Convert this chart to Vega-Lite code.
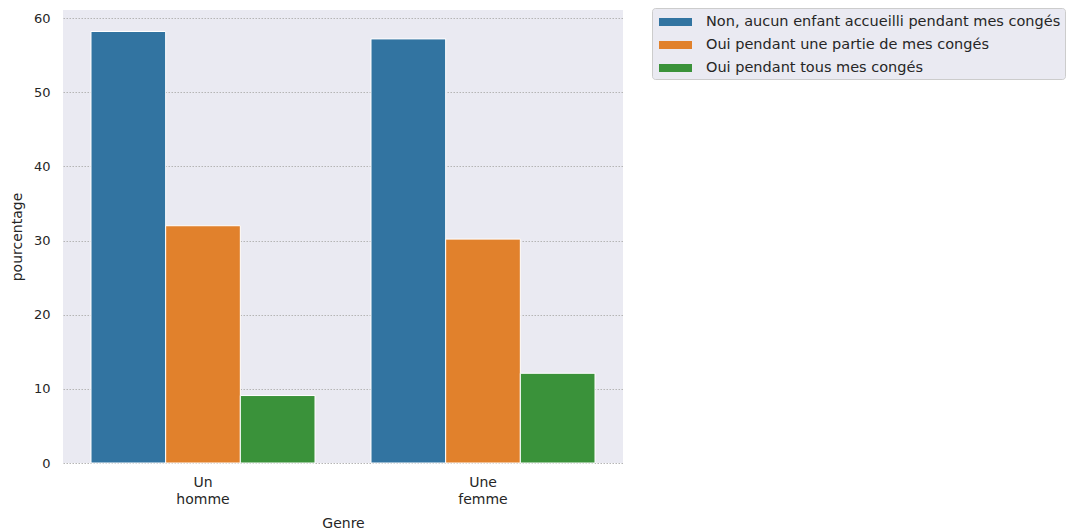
{
  "$schema": "https://vega.github.io/schema/vega-lite/v6.json",
  "autosize": {"type": "none"},
  "width": 560,
  "height": 453,
  "padding": {"left": 63, "top": 10, "right": 449, "bottom": 69},
  "background": "white",
  "config": {
    "font": "DejaVu Sans",
    "view": {"fill": "#eaeaf2", "stroke": null},
    "axis": {"labelColor": "#262626", "titleColor": "#262626", "labelFontSize": 13, "titleFontSize": 14, "titleFontWeight": "normal", "domain": false, "ticks": false}
  },
  "data": {
    "values": [
      {"genre": "Un homme", "reponse": "Non, aucun enfant accueilli pendant mes congés", "pourcentage": 58.2},
      {"genre": "Un homme", "reponse": "Oui pendant une partie de mes congés", "pourcentage": 32.0},
      {"genre": "Un homme", "reponse": "Oui pendant tous mes congés", "pourcentage": 9.1},
      {"genre": "Une femme", "reponse": "Non, aucun enfant accueilli pendant mes congés", "pourcentage": 57.2},
      {"genre": "Une femme", "reponse": "Oui pendant une partie de mes congés", "pourcentage": 30.2},
      {"genre": "Une femme", "reponse": "Oui pendant tous mes congés", "pourcentage": 12.1}
    ]
  },
  "mark": {"type": "bar", "stroke": "white", "strokeWidth": 1},
  "encoding": {
    "x": {
      "field": "genre", "type": "nominal", "sort": ["Un homme", "Une femme"],
      "scale": {"paddingInner": 0.2, "paddingOuter": 0.1},
      "axis": {"title": "Genre", "labelAngle": 0, "labelFontSize": 14, "labelExpr": "split(datum.label, ' ')", "labelPadding": 12, "labelLineHeight": 17, "titlePadding": 10, "grid": false}
    },
    "xOffset": {"field": "reponse", "type": "nominal", "sort": ["Non, aucun enfant accueilli pendant mes congés", "Oui pendant une partie de mes congés", "Oui pendant tous mes congés"]},
    "y": {
      "field": "pourcentage", "type": "quantitative",
      "scale": {"domain": [0, 61.1], "nice": false},
      "axis": {"title": "pourcentage", "values": [0, 10, 20, 30, 40, 50, 60], "labelPadding": 13, "titlePadding": 9, "grid": true, "gridColor": "#b5b5b5", "gridDash": [1.5, 1.5], "gridWidth": 1}
    },
    "color": {
      "field": "reponse", "type": "nominal",
      "sort": ["Non, aucun enfant accueilli pendant mes congés", "Oui pendant une partie de mes congés", "Oui pendant tous mes congés"],
      "scale": {"range": ["#3274a1", "#e1812c", "#3a923a"]},
      "legend": {
        "title": null, "orient": "none", "legendX": 589, "legendY": -2,
        "fillColor": "#eaeaf2", "strokeColor": "#cccccc", "cornerRadius": 3, "padding": 4,
        "symbolType": "M-0.7,-0.4L2.6,-0.4L2.6,0.4L-0.7,0.4Z", "symbolSize": 400,
        "symbolStrokeWidth": 0, "labelFontSize": 14.5, "labelColor": "#262626", "labelOffset": 30,
        "rowPadding": 6, "labelLimit": 500
      }
    }
  }
}
